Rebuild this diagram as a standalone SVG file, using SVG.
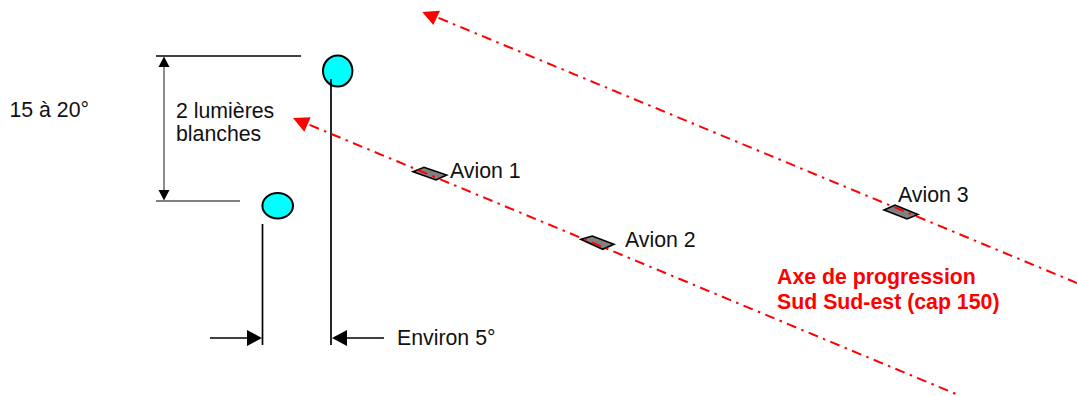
<svg xmlns="http://www.w3.org/2000/svg" width="1077" height="396" viewBox="0 0 1077 396">
<style>
text{font-family:"Liberation Sans",Arial,sans-serif;font-size:21.3px;fill:#111}
.red{font-weight:bold;fill:#f00}
.k{stroke:#000;stroke-width:1.7;fill:none}
.g{stroke:#808080;stroke-width:1.8;fill:none}
.axis{stroke:#f00;stroke-width:2;fill:none;stroke-dasharray:10 5.5 2.5 5.5;stroke-dashoffset:-5}
.head{fill:#f00}
.ah{fill:#000}
.lamp{fill:#0ff;stroke:#000;stroke-width:2}
.plane{fill:#808080;stroke:#000;stroke-width:1.6}
</style>
<g id="lamp-high"><ellipse class="lamp" cx="337.7" cy="71" rx="14.7" ry="15.5"/></g>
<g id="lamp-low"><ellipse class="lamp" cx="277.7" cy="205.7" rx="15.3" ry="12.7"/></g>
<g id="avion-1"><polygon class="plane" points="413,171.7 424,167.3 446.7,175 436,180"/><text x="450" y="178">Avion 1</text></g>
<g id="avion-2"><polygon class="plane" points="581,239.3 592.3,236 614,244.3 602.7,249.3"/><text x="625" y="247">Avion 2</text></g>
<g id="avion-3"><polygon class="plane" points="884,210 895,205 918,214.5 907,219"/><text x="898" y="202">Avion 3</text></g>
<g id="labels">
<text x="9.5" y="117">15 à 20°</text>
<text x="176" y="118">2 lumières</text>
<text x="176" y="141">blanches</text>
<text x="397" y="345">Environ 5°</text>
<text class="red" x="777" y="284">Axe de progression</text>
<text class="red" x="777" y="309">Sud Sud-est (cap 150)</text>
</g>
<g id="connectors">
<line class="k" x1="331" y1="79" x2="331" y2="345"/>
<line class="k" x1="262.5" y1="224" x2="262.5" y2="345"/>
<line class="k" x1="156" y1="56" x2="301" y2="56"/>
<line class="g" x1="156" y1="201" x2="240" y2="201"/>
<line class="g" x1="164" y1="66" x2="164" y2="192"/>
<polygon class="ah" points="164,56.5 158.5,67 169.5,67"/>
<polygon class="ah" points="164,200.5 158.5,190 169.5,190"/>
<line class="k" x1="210" y1="338" x2="250" y2="338"/>
<polygon class="ah" points="262,338 247,330 247,346"/>
<line class="k" x1="345" y1="338" x2="384" y2="338"/>
<polygon class="ah" points="332,338 347,330 347,346"/>
<line class="axis" x1="305" y1="123" x2="956" y2="394"/>
<polygon class="head" points="293,118 310.7,117.3 304.3,131.7"/>
<line class="axis" x1="434" y1="16" x2="1077" y2="283"/>
<polygon class="head" points="422.3,12 440,10.7 433.3,25"/>
</g>
</svg>
